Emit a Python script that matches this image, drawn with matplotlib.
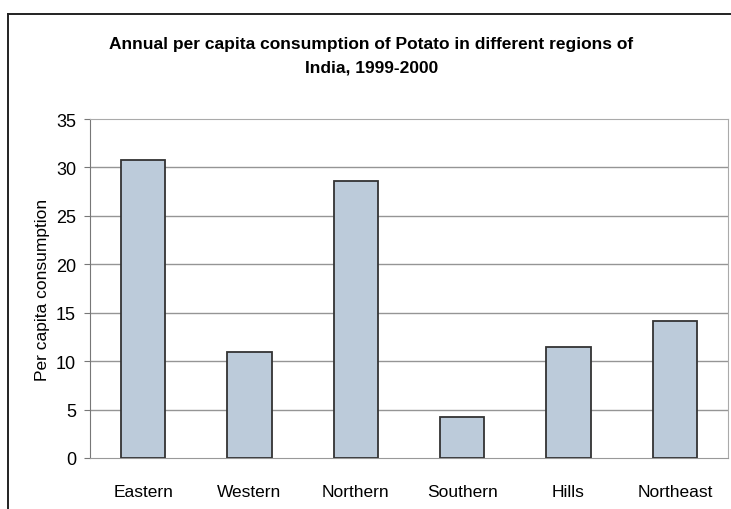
import matplotlib.pyplot as plt
from matplotlib.lines import Line2D

plt.rcParams['font.family'] = ['Liberation Sans', 'DejaVu Sans']

regions = ["Eastern", "Western", "Northern", "Southern", "Hills", "Northeast"]
consumption = [30.8, 10.9, 28.6, 4.2, 11.5, 14.1]
y_ticks = [0, 5, 10, 15, 20, 25, 30, 35]

W, H = 731, 510
fig = plt.figure(figsize=(W / 100, H / 100), dpi=100)
ax = fig.add_axes([90 / W, 1 - 459 / H, 638 / W, 339 / H])

x = range(len(regions))
ax.bar(x, consumption, width=0.42, color="#bccbda", edgecolor="#333333",
       linewidth=1.3, zorder=3)

ax.set_ylim(0, 35)
ax.set_xlim(-0.5, len(regions) - 0.5)
ax.set_yticks(y_ticks)
ax.set_xticks(list(x))
ax.set_xticklabels(regions, fontsize=12.5)
ax.tick_params(axis="x", length=0, pad=19)
ax.tick_params(axis="y", labelsize=13, length=4, color="#777777", pad=6)
ax.set_ylabel("Per capita consumption", fontsize=12.5, labelpad=4)

# horizontal gridlines
for v in y_ticks[1:-1]:
    ax.axhline(v, color="#959595", linewidth=1.0, zorder=1)

ax.spines["left"].set_color("#777777")
ax.spines["bottom"].set_color("#999999")
ax.spines["bottom"].set_linestyle((0, (2, 1)))
ax.spines["top"].set_color("#aaaaaa")
ax.spines["top"].set_linestyle((0, (2, 1)))
ax.spines["right"].set_color("#aaaaaa")

fig.text(0.5 + 6 / W, 1 - 45 / H, "Annual per capita consumption of Potato in different regions of",
         ha="center", va="center", fontsize=12.5, fontweight="bold")
fig.text(0.5 + 6 / W, 1 - 68 / H, "India, 1999-2000",
         ha="center", va="center", fontsize=12.5, fontweight="bold")

# outer chart frame
fig.add_artist(Line2D([8 / W, 1], [1 - 15 / H, 1 - 15 / H], transform=fig.transFigure,
                      color="#222222", linewidth=1.4))
fig.add_artist(Line2D([8 / W, 8 / W], [0, 1 - 15 / H], transform=fig.transFigure,
                      color="#222222", linewidth=1.4))

fig.savefig("out.png", dpi=100)
